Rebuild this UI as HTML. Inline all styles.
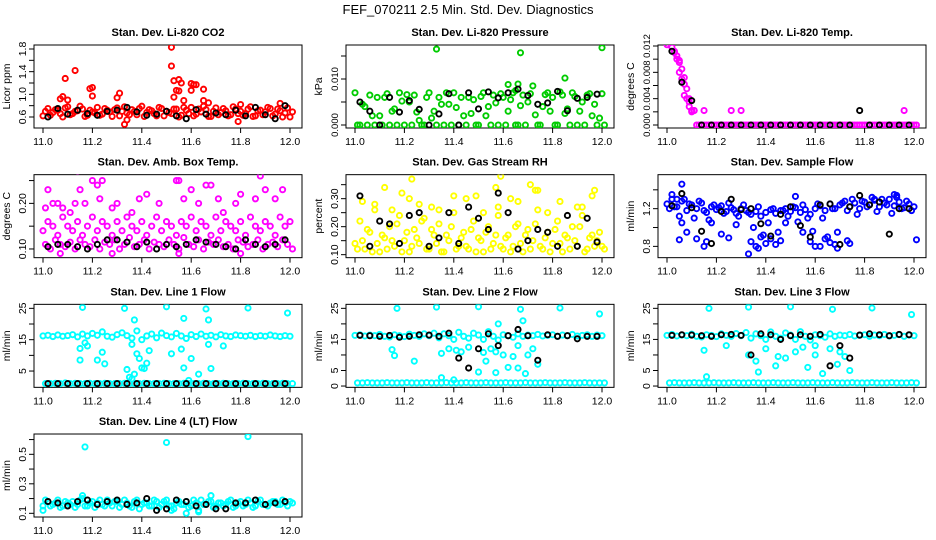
<!DOCTYPE html>
<html><head><meta charset="utf-8"><style>
html,body{margin:0;padding:0;background:#fff}
svg{display:block;font-family:"Liberation Sans",sans-serif}
</style></head><body>
<svg id="chart" width="936" height="540" viewBox="0 0 936 540">
<text x="468" y="14" text-anchor="middle" font-size="13">FEF_070211  2.5 Min. Std. Dev. Diagnostics</text>
</svg>
<script>
const times=[11.00,11.02,11.04,11.06,11.08,11.10,11.12,11.14,11.16,11.18,11.20,11.22,11.24,11.26,11.28,11.30,11.32,11.34,11.36,11.38,11.40,11.42,11.44,11.46,11.48,11.50,11.52,11.54,11.56,11.58,11.60,11.62,11.64,11.66,11.68,11.70,11.72,11.74,11.76,11.78,11.80,11.82,11.84,11.86,11.88,11.90,11.92,11.94,11.96,11.98,12.00];
const btimes=[11.02,11.06,11.10,11.14,11.18,11.22,11.26,11.30,11.34,11.38,11.42,11.46,11.50,11.54,11.58,11.62,11.66,11.70,11.74,11.78,11.82,11.86,11.90,11.94,11.98];
const xTicks=[11.0,11.2,11.4,11.6,11.8,12.0];
const xTickLabels=["11.0","11.2","11.4","11.6","11.8","12.0"];

const p1Main=[0.62,0.75,0.68,0.72,0.60,0.78,0.66,0.71,0.74,0.63,0.69,0.77,0.65,0.72,0.61,0.76,0.70,0.67,0.73,0.64,0.79,0.68,0.71,0.62,0.75,0.70,0.66,0.74,0.63,0.72,0.77,0.65,0.69,0.73,0.61,0.76,0.68,0.71,0.64,0.74,0.70,0.66,0.78,0.62,0.72,0.69,0.75,0.65,0.71,0.67,0.60];
const p1Low=[0.70,0.63,0.73,0.66,0.76,0.64,0.70,0.79,0.61,0.72,0.67,0.63,0.75,0.69,0.73,0.62,0.78,0.64,0.70,0.75,0.61,0.73,0.66,0.77,0.62,0.68,0.74,0.60,0.77,0.66,0.62,0.74,0.79,0.61,0.70,0.64,0.75,0.62,0.78,0.66,0.63,0.74,0.61,0.71,0.64,0.77,0.62,0.74,0.60,0.76,0.69];
const p1OutX=[11.07,11.08,11.09,11.10,11.13,11.19,11.20,11.20,11.30,11.31,11.33,11.34,11.52,11.52,11.53,11.54,11.55,11.56,11.55,11.53,11.57,11.60,11.61,11.62,11.60,11.65,11.65,11.67,11.79,11.80,11.96];
const p1OutY=[0.92,0.96,1.28,0.90,1.42,1.10,1.12,0.97,0.94,1.02,0.47,0.55,1.83,1.50,1.24,1.07,1.26,1.20,1.06,0.95,0.89,1.19,1.17,1.17,1.07,1.09,0.89,0.85,0.52,0.82,0.84];
const p1Black=[0.60,0.75,0.65,0.72,0.66,0.63,0.70,0.72,0.77,0.69,0.63,0.65,0.70,0.62,0.57,0.73,0.65,0.67,0.64,0.72,0.62,0.77,0.64,0.57,0.80];

const p2Main=[0.007,0,0.004,0.0065,0,0.002,0.006,0,0.0035,0.007,0,0.005,0.0065,0.001,0,0.007,0.003,0.006,0,0.0045,0.007,0,0.002,0.006,0.0055,0,0.007,0.004,0.0065,0,0.006,0.003,0.007,0,0.0065,0.005,0.0085,0,0.004,0.007,0.006,0,0.0065,0.0035,0.007,0,0.005,0.0065,0.002,0,0.0068];
const p2Low=[0,0.0045,0,0.002,0.006,0,0.0068,0.003,0,0.0052,0.0066,0,0.0028,0,0.006,0.0015,0,0.0045,0.007,0,0.0038,0.006,0,0.0025,0,0.0062,0.002,0,0.0048,0.0068,0,0.0055,0,0.0042,0,0.0068,0.0022,0,0.0066,0.003,0,0.0072,0.0025,0,0.0062,0.003,0,0.0068,0.0045,0.0015,0];
const p2OutX=[11.33,11.67,12.00,11.85,11.62,11.66,11.65];
const p2OutY=[0.0165,0.0157,0.0168,0.0102,0.0088,0.0089,0.0075];
const p2Black=[0.005,0.003,0,0.006,0.0028,0.0053,0.0034,0,0.0024,0.0068,0,0.0070,0.0035,0.0072,0.0059,0.0070,0.0078,0.0064,0.0045,0.0048,0.0073,0.0031,0.0058,0.0060,0.0067];

const p3Main=[0.0122,0.0118,0.0105,0.0085,0.0055,0.002,0,0,0,0,0,0,0,0,0,0,0,0,0,0,0,0,0,0,0,0,0,0,0,0,0,0,0,0,0,0,0,0,0,0,0,0,0,0,0,0,0,0,0,0,0];
const p3Low=[0.0125,0.0112,0.0098,0.0072,0.0040,0.0022,0,0,0,0,0,0,0,0,0,0,0,0,0,0,0,0,0,0,0,0,0,0,0,0,0,0,0,0,0,0,0,0,0,0,0,0,0,0,0,0,0,0,0,0,0];
const p3OutX=[11.01,11.03,11.05,11.06,11.07,11.07,11.08,11.09,11.10,11.11,11.15,11.26,11.30,11.96,11.04,11.05,11.09];
const p3OutY=[0.0125,0.0110,0.0095,0.0070,0.0062,0.0045,0.0040,0.0035,0.0022,0.0022,0.0022,0.0022,0.0022,0.0022,0.0100,0.0080,0.0028];
const p3Black=[0.0112,0.0065,0.0037,0,0,0,0,0,0,0,0,0,0,0,0,0,0,0,0,0.0022,0,0,0,0,0];

const p4Main=[0.14,0.16,0.15,0.13,0.17,0.15,0.14,0.16,0.13,0.15,0.17,0.14,0.16,0.15,0.13,0.16,0.14,0.17,0.15,0.14,0.16,0.13,0.15,0.17,0.14,0.16,0.15,0.13,0.16,0.15,0.17,0.14,0.16,0.15,0.13,0.17,0.14,0.16,0.15,0.14,0.16,0.13,0.17,0.15,0.14,0.16,0.15,0.13,0.17,0.15,0.16];
const p4Low=[0.11,0.10,0.12,0.11,0.105,0.115,0.10,0.12,0.11,0.105,0.12,0.10,0.115,0.11,0.12,0.10,0.11,0.125,0.105,0.11,0.12,0.10,0.115,0.11,0.105,0.12,0.11,0.10,0.125,0.11,0.105,0.12,0.10,0.115,0.11,0.12,0.105,0.11,0.10,0.12,0.115,0.105,0.11,0.12,0.10,0.11,0.115,0.105,0.12,0.11,0.10];
const p4OutX=[11.01,11.02,11.04,11.06,11.08,11.13,11.14,11.15,11.17,11.20,11.22,11.24,11.23,11.28,11.30,11.39,11.42,11.47,11.54,11.55,11.57,11.60,11.63,11.66,11.68,11.71,11.78,11.80,11.88,11.86,11.90,11.94,11.97,11.07,11.28,11.55,11.80,11.11,11.36,11.73];
const p4OutY=[0.19,0.23,0.20,0.20,0.19,0.20,0.27,0.23,0.20,0.25,0.24,0.25,0.21,0.19,0.20,0.21,0.22,0.20,0.25,0.25,0.21,0.23,0.20,0.24,0.24,0.21,0.20,0.22,0.26,0.21,0.23,0.21,0.23,0.09,0.09,0.09,0.09,0.18,0.18,0.18];
const p4Black=[0.105,0.11,0.11,0.105,0.10,0.11,0.12,0.12,0.115,0.105,0.115,0.10,0.11,0.105,0.11,0.12,0.115,0.11,0.105,0.10,0.12,0.11,0.105,0.11,0.12];

const p5Main=[0.14,0.22,0.12,0.18,0.26,0.11,0.16,0.20,0.13,0.24,0.15,0.11,0.19,0.14,0.23,0.12,0.17,0.21,0.11,0.15,0.25,0.13,0.18,0.12,0.22,0.16,0.11,0.20,0.14,0.24,0.12,0.17,0.13,0.21,0.11,0.19,0.15,0.26,0.12,0.18,0.14,0.22,0.11,0.16,0.20,0.13,0.24,0.12,0.17,0.15,0.13];
const p5Low=[0.12,0.15,0.19,0.11,0.14,0.17,0.12,0.15,0.21,0.11,0.18,0.13,0.16,0.22,0.12,0.19,0.14,0.11,0.17,0.20,0.12,0.16,0.13,0.19,0.11,0.15,0.18,0.12,0.17,0.13,0.16,0.11,0.20,0.14,0.17,0.12,0.21,0.13,0.16,0.11,0.19,0.14,0.17,0.12,0.15,0.20,0.11,0.16,0.13,0.18,0.12];
const p5OutX=[11.03,11.08,11.12,11.19,11.23,11.22,11.26,11.31,11.40,11.45,11.49,11.57,11.59,11.58,11.63,11.66,11.71,11.73,11.74,11.83,11.90,11.92,11.97,11.96,11.15,11.34,11.52,11.78];
const p5OutY=[0.29,0.28,0.34,0.32,0.37,0.30,0.28,0.27,0.31,0.30,0.31,0.34,0.38,0.27,0.30,0.29,0.35,0.33,0.33,0.29,0.27,0.27,0.33,0.31,0.26,0.26,0.25,0.25];
const p5Black=[0.31,0.13,0.22,0.21,0.14,0.24,0.25,0.13,0.16,0.25,0.14,0.27,0.23,0.19,0.32,0.25,0.12,0.15,0.19,0.18,0.13,0.24,0.13,0.23,0.145];

const p6Main=[1.25,1.30,1.22,1.28,1.18,1.24,1.20,1.26,1.16,1.22,1.19,1.23,1.17,1.21,1.15,1.20,1.18,1.14,1.17,1.12,1.16,1.19,1.15,1.18,1.20,1.17,1.21,1.16,1.19,1.14,1.20,1.23,1.18,1.25,1.20,1.24,1.28,1.22,1.26,1.20,1.27,1.24,1.29,1.22,1.26,1.30,1.23,1.27,1.21,1.25,1.22];
const p6Low=[1.20,1.22,1.12,1.30,1.25,1.10,1.28,1.18,1.08,1.24,1.21,1.15,1.26,1.19,1.12,1.24,1.16,1.00,1.22,0.92,1.05,1.20,0.95,1.18,1.12,1.22,1.06,1.24,1.10,0.96,1.25,1.10,0.90,1.20,0.95,1.26,1.18,1.30,1.14,1.28,1.22,1.32,1.17,1.30,1.24,1.15,1.34,1.20,1.28,1.18,0.87];
const p6OutX=[11.02,11.04,11.05,11.06,11.08,11.12,11.15,11.16,11.22,11.25,11.33,11.34,11.36,11.37,11.38,11.40,11.42,11.44,11.46,11.52,11.55,11.58,11.60,11.62,11.64,11.66,11.68,11.69,11.73,11.74,11.84,11.92,11.93,11.06,11.18,11.28,11.48];
const p6OutY=[1.35,1.30,0.87,1.46,0.95,0.88,0.80,0.85,0.93,0.89,0.72,0.85,0.80,0.78,0.90,0.83,0.88,0.82,0.86,1.33,0.95,0.85,0.80,0.80,0.88,0.84,0.82,0.78,0.86,0.83,1.30,1.35,1.32,1.05,1.05,1.03,1.05];
const p6Black=[1.23,1.36,1.21,0.96,0.83,1.17,1.30,1.19,1.20,1.04,0.91,1.14,1.22,1.02,0.90,1.24,1.25,0.82,1.22,1.34,1.24,1.27,0.93,1.20,1.20];

const p7Main=[16.2,16.4,16.0,16.5,16.1,16.3,16.6,15.9,16.8,16.2,17.0,16.4,17.5,16.1,15.8,16.6,17.2,16.3,15.5,17.8,15.0,16.2,16.8,15.6,17.1,16.3,15.9,17.0,16.2,15.4,16.6,16.0,16.8,16.1,16.4,15.9,16.6,16.2,16.0,16.5,16.3,16.1,16.4,16.0,16.3,16.1,16.5,16.2,16.0,16.3,16.1];
const p7Low=[1.0,1.0,1.1,1.0,1.2,1.0,1.1,1.0,1.0,1.1,1.0,1.0,1.1,1.0,1.0,1.0,1.1,1.0,1.0,1.0,1.1,1.0,1.0,1.0,1.1,1.0,1.0,1.0,1.1,1.0,1.0,1.0,1.1,1.0,1.0,1.0,1.1,1.0,1.0,1.0,1.1,1.0,1.0,1.0,1.1,1.0,1.0,1.0,1.1,1.0,1.0];
const p7OutX=[11.16,11.33,11.50,11.66,11.83,11.99,11.37,11.57,11.67,11.17,11.15,11.18,11.24,11.25,11.22,11.36,11.38,11.39,11.40,11.42,11.43,11.34,11.37,11.41,11.52,11.56,11.57,11.60,11.63,11.68,11.67,11.73,11.15,11.35,11.36,11.59];
const p7OutY=[25.3,25.0,25.5,24.8,25.1,23.5,21.3,21.8,21.3,14.0,12.2,13.0,11.0,7.3,8.5,13.5,10.5,9.0,6.0,7.5,11.5,5.5,4.0,5.8,10.5,12.0,6.0,9.0,4.0,5.8,13.5,13.0,8.5,3.0,2.5,2.0];
const p7Black=[1.0,1.0,1.0,1.0,1.0,1.0,1.0,1.0,1.0,1.0,1.0,1.0,1.0,1.0,1.0,1.0,1.0,1.0,1.0,1.0,1.0,1.0,1.0,1.0,1.0];

const p8Main=[16.3,16.5,16.1,16.4,16.2,16.6,16.0,15.8,16.5,16.2,15.9,16.7,16.3,16.0,16.8,16.2,17.0,15.5,16.8,16.2,15.0,17.3,16.0,15.4,17.0,16.4,15.0,17.5,16.0,14.8,16.5,16.2,15.7,16.8,16.0,16.4,16.2,16.6,16.1,16.3,16.5,16.0,16.4,16.2,16.6,16.1,16.3,16.5,16.0,16.4,16.2];
const p8Low=[1.0,1.0,1.1,1.0,1.0,1.0,1.1,1.0,1.0,1.0,1.1,1.0,1.0,1.0,1.1,1.0,1.0,1.0,1.1,1.0,1.0,1.0,1.1,1.0,1.0,1.0,1.1,1.0,1.0,1.0,1.1,1.0,1.0,1.0,1.1,1.0,1.0,1.0,1.1,1.0,1.0,1.0,1.1,1.0,1.0,1.0,1.1,1.0,1.0,1.0,1.0];
const p8OutX=[11.17,11.33,11.50,11.67,11.83,11.99,11.15,11.16,11.24,11.35,11.38,11.41,11.43,11.46,11.50,11.52,11.53,11.55,11.57,11.58,11.60,11.62,11.64,11.66,11.68,11.70,11.72,11.74,11.35,11.40,11.57,11.66,11.69];
const p8OutY=[25.0,25.4,25.5,24.7,25.1,23.2,11.7,9.8,8.0,10.5,12.0,11.5,11.0,12.5,4.5,10.8,8.0,12.0,11.0,20.0,10.0,6.0,9.5,13.0,21.0,10.0,12.0,7.0,2.7,2.0,4.3,5.8,4.0];
const p8Black=[16.3,16.2,16.0,16.3,15.7,16.0,16.5,16.4,16.0,17.0,9.0,5.8,12.0,16.8,13.0,16.2,18.2,16.2,8.3,16.5,16.0,16.2,15.2,16.0,16.0];

const p9Main=[16.3,16.6,16.1,16.4,16.2,16.7,16.0,15.8,16.5,16.3,15.9,16.8,16.3,16.0,16.9,16.2,17.2,15.4,16.8,16.2,15.0,17.4,16.0,15.4,17.1,16.4,15.0,17.5,16.0,14.8,16.5,16.2,15.7,16.8,16.0,16.4,16.2,16.6,16.1,16.3,16.5,16.0,16.4,16.2,16.6,16.1,16.3,16.5,16.0,16.4,16.2];
const p9Low=[1.0,1.1,1.0,1.0,1.0,1.1,1.0,1.0,1.0,1.1,1.0,1.0,1.0,1.1,1.0,1.0,1.0,1.1,1.0,1.0,1.0,1.1,1.0,1.0,1.0,1.1,1.0,1.0,1.0,1.1,1.0,1.0,1.0,1.1,1.0,1.0,1.0,1.1,1.0,1.0,1.0,1.1,1.0,1.0,1.0,1.1,1.0,1.0,1.0,1.1,1.0];
const p9OutX=[11.17,11.33,11.50,11.67,11.83,11.99,11.15,11.16,11.24,11.33,11.36,11.40,11.44,11.48,11.52,11.55,11.57,11.60,11.63,11.66,11.69,11.72,11.74,11.37,11.45,11.60,11.70];
const p9OutY=[25.0,25.4,25.5,24.7,25.1,23.0,11.5,3.0,13.0,10.0,8.0,12.0,6.5,9.0,11.0,12.5,6.0,10.0,4.0,12.0,7.0,9.5,5.0,4.5,9.5,13.0,11.0];
const p9Black=[16.3,16.5,16.4,16.2,16.0,16.5,16.6,16.3,10.0,16.8,16.5,15.0,16.2,16.5,16.0,16.6,6.5,13.0,9.0,16.4,16.8,16.5,16.2,16.6,16.5];

const p10Main=[0.15,0.18,0.16,0.19,0.15,0.17,0.18,0.16,0.20,0.15,0.18,0.17,0.16,0.19,0.15,0.18,0.16,0.17,0.14,0.19,0.16,0.17,0.15,0.18,0.16,0.19,0.15,0.17,0.16,0.18,0.15,0.17,0.19,0.16,0.18,0.15,0.17,0.16,0.19,0.15,0.18,0.16,0.17,0.15,0.19,0.16,0.17,0.18,0.16,0.17,0.18];
const p10Low=[0.19,0.15,0.17,0.14,0.18,0.16,0.14,0.19,0.15,0.17,0.14,0.19,0.15,0.17,0.18,0.14,0.19,0.15,0.18,0.13,0.17,0.15,0.19,0.14,0.18,0.15,0.13,0.18,0.16,0.14,0.19,0.12,0.16,0.18,0.14,0.17,0.15,0.18,0.14,0.17,0.15,0.19,0.14,0.18,0.16,0.15,0.18,0.16,0.19,0.15,0.17];
const p10OutX=[11.17,11.50,11.83,11.00,11.16,11.52,11.58,11.63,11.68];
const p10OutY=[0.55,0.58,0.62,0.12,0.22,0.12,0.10,0.11,0.22];
const p10Black=[0.18,0.17,0.15,0.18,0.19,0.16,0.18,0.19,0.16,0.17,0.20,0.12,0.13,0.19,0.18,0.15,0.16,0.13,0.13,0.17,0.17,0.19,0.16,0.17,0.18];

const NS="http://www.w3.org/2000/svg";
const svg=document.getElementById('chart');
function mk(tag,attrs,parent){const e=document.createElementNS(NS,tag);for(const k in attrs)e.setAttribute(k,attrs[k]);(parent||svg).appendChild(e);return e;}

const panels=[
{col:0,row:0,title:"Stan. Dev. Li-820 CO2",ylab:"Licor ppm",color:"#ff0000",ticks:[0.6,0.8,1.0,1.2,1.4,1.6,1.8],labels:["0.6","","1.0","","1.4","","1.8"],ref:[0.6,72,1.8,4],main:p1Main,low:p1Low,ox:p1OutX,oy:p1OutY,black:p1Black},
{col:1,row:0,title:"Stan. Dev. Li-820 Pressure",ylab:"kPa",color:"#00cc00",ticks:[0,0.005,0.010,0.015],labels:["0.000","","0.010",""],ref:[0,80,0.010,34],main:p2Main,low:p2Low,ox:p2OutX,oy:p2OutY,black:p2Black},
{col:2,row:0,title:"Stan. Dev. Li-820 Temp.",ylab:"degrees C",color:"#ff00ff",ticks:[0,0.002,0.004,0.006,0.008,0.010,0.012],labels:["0.000","","0.004","","0.008","","0.012"],ref:[0,80,0.012,1],main:p3Main,low:p3Low,ox:p3OutX,oy:p3OutY,black:p3Black},
{col:0,row:1,title:"Stan. Dev. Amb. Box Temp.",ylab:"degrees C",color:"#ff00ff",ticks:[0.10,0.15,0.20,0.25],labels:["0.10","","0.20",""],ref:[0.10,74.3,0.20,28.7],main:p4Main,low:p4Low,ox:p4OutX,oy:p4OutY,black:p4Black},
{col:1,row:1,title:"Stan. Dev. Gas Stream RH",ylab:"percent",color:"#ffff00",ticks:[0.10,0.15,0.20,0.25,0.30,0.35],labels:["0.10","","0.20","","0.30",""],ref:[0.10,80,0.30,24],main:p5Main,low:p5Low,ox:p5OutX,oy:p5OutY,black:p5Black},
{col:2,row:1,title:"Stan. Dev. Sample Flow",ylab:"ml/min",color:"#0000ff",ticks:[0.8,1.0,1.2,1.4],labels:["0.8","","1.2",""],ref:[0.8,71.7,1.2,34],main:p6Main,low:p6Low,ox:p6OutX,oy:p6OutY,black:p6Black},
{col:0,row:2,title:"Stan. Dev. Line 1 Flow",ylab:"ml/min",color:"#00ffff",ticks:[5,10,15,20,25],labels:["5","","15","","25"],ref:[5,66.7,25,4],main:p7Main,low:p7Low,ox:p7OutX,oy:p7OutY,black:p7Black},
{col:1,row:2,title:"Stan. Dev. Line 2 Flow",ylab:"ml/min",color:"#00ffff",ticks:[0,5,10,15,20,25],labels:["0","5","","15","","25"],ref:[0,81.7,25,4],main:p8Main,low:p8Low,ox:p8OutX,oy:p8OutY,black:p8Black},
{col:2,row:2,title:"Stan. Dev. Line 3 Flow",ylab:"ml/min",color:"#00ffff",ticks:[0,5,10,15,20,25],labels:["0","5","","15","","25"],ref:[0,81.7,25,4],main:p9Main,low:p9Low,ox:p9OutX,oy:p9OutY,black:p9Black},
{col:0,row:3,title:"Stan. Dev. Line 4 (LT) Flow",ylab:"ml/min",color:"#00ffff",ticks:[0.1,0.2,0.3,0.4,0.5,0.6],labels:["0.1","","0.3","","0.5",""],ref:[0.1,79.3,0.5,20.3],main:p10Main,low:p10Low,ox:p10OutX,oy:p10OutY,black:p10Black}
];

panels.forEach((p,i)=>{
  const x0=34+312*p.col, y0=45+129.67*p.row, W=268, H=83;
  const g=mk('g',{});
  
  
  const xs=v=>x0+9+(v-11)*247;
  const ys=v=>y0+p.ref[1]+(v-p.ref[0])*(p.ref[3]-p.ref[1])/(p.ref[2]-p.ref[0]);
  const t=mk('text',{x:x0+W/2,y:y0-9,'text-anchor':'middle','font-size':11,'font-weight':'bold'},g);
  t.textContent=p.title;
  
  
  const box=mk('rect',{x:x0,y:y0,width:W,height:H,fill:'none',stroke:'#000','stroke-width':1},g);
  
  
  xTicks.forEach((v,k)=>{
    mk('line',{x1:xs(v),x2:xs(v),y1:y0+H,y2:y0+H+5,stroke:'#000'},g);
    const lt=mk('text',{x:xs(v),y:y0+H+17,'text-anchor':'middle','font-size':10.5},g);
    lt.textContent=xTickLabels[k];
    
    
  });
  p.ticks.forEach((v,k)=>{
    const yy=ys(v);
    mk('line',{x1:x0-5,x2:x0,y1:yy,y2:yy,stroke:'#000'},g);
    if(p.labels[k]){
      const lt=mk('text',{x:0,y:0,'text-anchor':'middle','font-size':p.labels[k].length>4?9.5:10.5,transform:`translate(${x0-8},${yy}) rotate(-90)`},g);
      lt.textContent=p.labels[k];
      
      
    }
  });
  const yl=mk('text',{x:0,y:0,'text-anchor':'middle','font-size':10.5,transform:`translate(${x0-24},${y0+H/2}) rotate(-90)`},g);
  yl.textContent=p.ylab;
  
  
  const clip='clip'+i;
  const cp=mk('clipPath',{id:clip},g); mk('rect',{x:x0,y:y0,width:W,height:H},cp);
  const pts=mk('g',{'clip-path':`url(#${clip})`},g);
  function dot(x,y,c,name){
    const c1=mk('circle',{cx:xs(x),cy:ys(y),r:2.6,fill:'none',stroke:c,'stroke-width':1.9},pts);
    
    
  }
  p.low.forEach((v,k)=>dot(times[k]+0.01,v,p.color,'point'));
  p.main.forEach((v,k)=>dot(times[k],v,p.color,'point'));
  p.ox.forEach((x,k)=>dot(x,p.oy[k],p.color,'outlier-point'));
  p.black.forEach((v,k)=>dot(btimes[k],v,'#000','reference-point'));
});
</script>
</body></html>
